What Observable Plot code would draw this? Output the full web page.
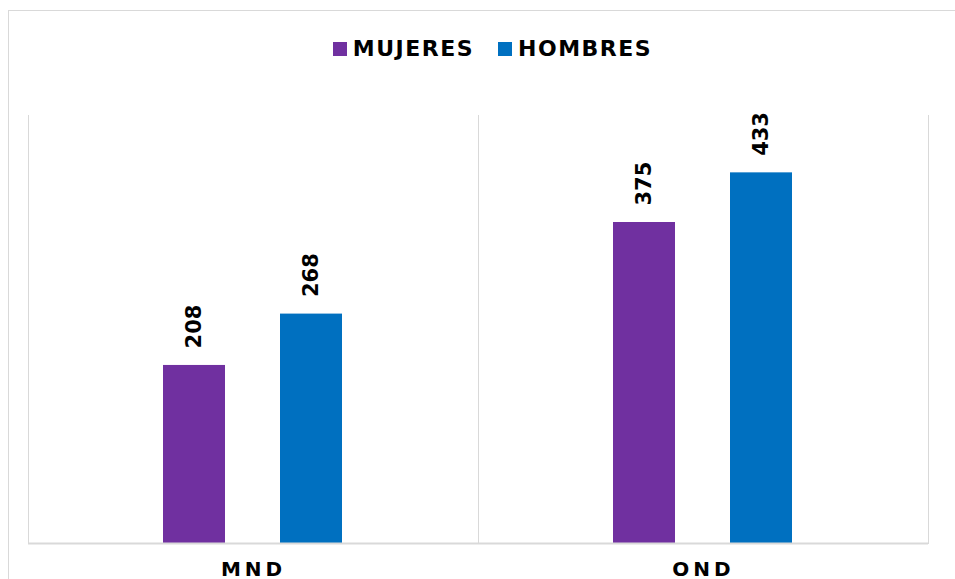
<!DOCTYPE html>
<html><head><meta charset="utf-8">
<script src="https://cdn.jsdelivr.net/npm/d3@7"></script>
<script src="https://cdn.jsdelivr.net/npm/@observablehq/plot@0.6"></script>
<style>
body{margin:0;background:#fff;overflow:hidden;font-family:"DejaVu Sans",Verdana,sans-serif;}
#wrap{position:relative;width:955px;height:579px;overflow:hidden;background:#fff;}
#border{position:absolute;left:8px;top:10px;width:1200px;height:800px;border:1px solid #d9d9d9;box-sizing:border-box;pointer-events:none}
#legend{position:relative;height:100px;display:flex;justify-content:center;align-items:flex-start;padding-top:37px;padding-left:30px;box-sizing:border-box;}
.item{display:flex;align-items:center;margin:0 12px;font-weight:bold;font-size:22px;letter-spacing:1.5px;line-height:23px;color:#000}
.sw{width:14px;height:14px;margin-right:6px}
#chart{position:relative}
#chart svg g[aria-label="fx-axis tick label"] text{letter-spacing:4px}
</style>
</head>
<body>
<div id="wrap">
  <div id="border"></div>
  <div id="legend"></div>
  <div id="chart"></div>
</div>
<script>
const categories = ["MND", "OND"];
const series = ["MUJERES", "HOMBRES"];
const mujeres = [208, 375];
const hombres = [268, 433];
const colors = ["#7030A0", "#0070C0"];

const data = categories.flatMap((c, i) => [
  {cat: c, serie: series[0], value: mujeres[i]},
  {cat: c, serie: series[1], value: hombres[i]}
]);

const legend = document.getElementById("legend");
series.forEach((s, i) => {
  const it = document.createElement("div");
  it.className = "item";
  const sw = document.createElement("span");
  sw.className = "sw";
  sw.style.background = colors[i];
  it.appendChild(sw);
  const t = document.createElement("span");
  t.textContent = s;
  it.appendChild(t);
  legend.appendChild(it);
});

const chart = Plot.plot({
  width: 955,
  height: 490,
  marginTop: 15,
  marginBottom: 47,
  marginLeft: 28,
  marginRight: 27,
  style: {fontFamily: "DejaVu Sans, Verdana, sans-serif", color: "#000", background: "transparent", overflow: "visible"},
  fx: {domain: categories, padding: 0, label: null},
  x: {domain: series, paddingInner: 0.47, paddingOuter: 1.158, axis: null},
  y: {domain: [0, 500], axis: null},
  color: {domain: series, range: colors},
  marks: [
    Plot.frame({anchor: "left", stroke: "#d9d9d9"}),
    Plot.frame({anchor: "right", stroke: "#d9d9d9"}),
    Plot.barY(data, {fx: "cat", x: "serie", y: "value", fill: "serie"}),
    Plot.ruleY([0], {stroke: "#d9d9d9", strokeWidth: 2}),
    Plot.text(data, {fx: "cat", x: "serie", y: "value", text: d => String(d.value), rotate: -90, textAnchor: "start", lineAnchor: "middle", dy: -17, fontSize: 21, fontWeight: "bold", fill: "#000"}),
    Plot.axisFx({anchor: "bottom", tickSize: 0, tickPadding: 18, fontSize: 20, fontWeight: "bold", label: null})
  ]
});
document.getElementById("chart").appendChild(chart);
</script>
</body></html>
